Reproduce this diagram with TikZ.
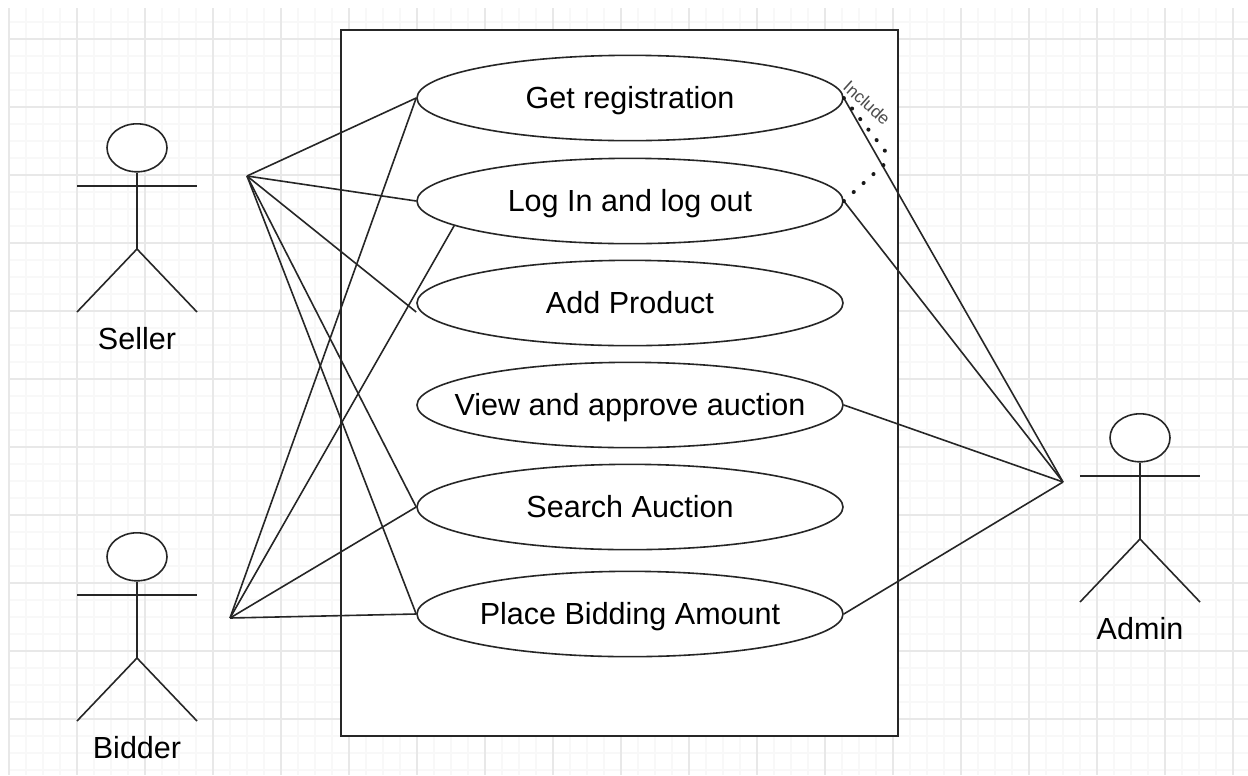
\documentclass[tikz,border=0pt]{standalone}
\usepackage{fontspec}
\setmainfont{Liberation Sans}
\usetikzlibrary{shapes.geometric}
\definecolor{gridminor}{HTML}{F8F8F8}
\definecolor{gridmajor}{HTML}{E8E8E8}
\newcommand{\uclabel}[1]{\makebox[0pt]{#1}}
\tikzset{
  usecase/.style={draw=black!85,fill=white,ellipse,line width=1.2pt,minimum width=319.5pt,minimum height=64pt,inner sep=0pt,text height=16pt,text depth=0pt,font=\fontsize{22.9}{26}\selectfont},
  actorlabel/.style={font=\fontsize{22.9}{26}\selectfont,inner sep=0pt,text height=16pt,text depth=0pt},
  link/.style={draw=black!85,line width=1.2pt},
  dots/.style={draw=black!90,line width=3pt,line cap=round,dash pattern=on 0.1pt off 9.9pt},
  figure/.style={draw=black!85,line width=1.2pt},
}
\begin{document}
\begin{tikzpicture}[x=0.75pt,y=-0.75pt]
\useasboundingbox (0,0) rectangle (1248,775);
\fill[white] (0,0) rectangle (1248,775);
% grid
\foreach \k in {0,...,73} {\draw[gridminor,line width=1.1pt] ({9+17*\k},8) -- ({9+17*\k},775);}
\foreach \k in {0,...,45} {\draw[gridminor,line width=1.1pt] (8,{22+17*\k}) -- (1248,{22+17*\k});}
\foreach \k in {0,...,18} {\draw[gridmajor,line width=1.1pt] ({9+68*\k},8) -- ({9+68*\k},775);}
\foreach \k in {0,...,10} {\draw[gridmajor,line width=1.1pt] (8,{39+68*\k}) -- (1248,{39+68*\k});}
% system box
\node[draw=black!85,fill=white,line width=1.2pt,minimum width=417.75pt,minimum height=529.5pt,inner sep=0pt] (system) at (619.5,383) {};
% connection points
\coordinate (sellerport) at (247,176);
\coordinate (bidderport) at (230,618);
\coordinate (adminport) at (1063,482);
\coordinate (incA) at (889,156);
\coordinate (incB) at (889,160);
% use cases
\node[usecase] (get) at (630,98) {\uclabel{Get registration}};
\node[usecase] (login) at (630,201) {\uclabel{Log In and log out}};
\node[usecase] (add) at (630,303) {\uclabel{Add Product}};
\node[usecase] (view) at (630,405) {\uclabel{View and approve auction}};
\node[usecase] (search) at (630,507) {\uclabel{Search Auction}};
\node[usecase] (place) at (630,614) {\uclabel{Place Bidding Amount}};
% connectors
\draw[link] (sellerport) -- (get.west);
\draw[link] (sellerport) -- (login.west);
\draw[link] (sellerport) -- (add.west |- 0,312);
\draw[link] (sellerport) -- (search.west);
\draw[link] (sellerport) -- (place.west);
\draw[link] (bidderport) -- (get.west);
\draw[link] (bidderport) -- (login.188.1);
\draw[link] (bidderport) -- (search.west);
\draw[link] (bidderport) -- (place.west);
\draw[link] (adminport) -- (get.east);
\draw[link] (adminport) -- (login.east);
\draw[link] (adminport) -- (view.east);
\draw[link] (adminport) -- (place.east);
\draw[dots] (get.east) -- (incA);
\draw[dots] (login.east) -- (incB);
\node[rotate=-42,inner sep=0pt,font=\fontsize{13}{15}\selectfont,text=black!70] (inc) at (867,103) {Include};
% actors
\foreach \n/\cx/\ty/\lab in {seller/137/123/Seller,bidder/137/532/Bidder,admin/1140/413/Admin} {
  \node[draw=black!85,fill=white,ellipse,line width=1.2pt,minimum width=45pt,minimum height=36pt,inner sep=0pt,anchor=north] (\n head) at (\cx,\ty) {};
  \coordinate (\n hip) at (\cx,\ty+126);
  \coordinate (\n armL) at (\cx-60,\ty+63);
  \coordinate (\n armR) at (\cx+60,\ty+63);
  \coordinate (\n legL) at (\cx-60,\ty+189);
  \coordinate (\n legR) at (\cx+60,\ty+189);
  \draw[figure] (\n head.south) -- (\n hip);
  \draw[figure] (\n armL) -- (\n armR);
  \draw[figure] (\n legL) -- (\n hip) -- (\n legR);
  \node[actorlabel] (\n label) at (\cx,\ty+216) {\lab};
}
\end{tikzpicture}
\end{document}
